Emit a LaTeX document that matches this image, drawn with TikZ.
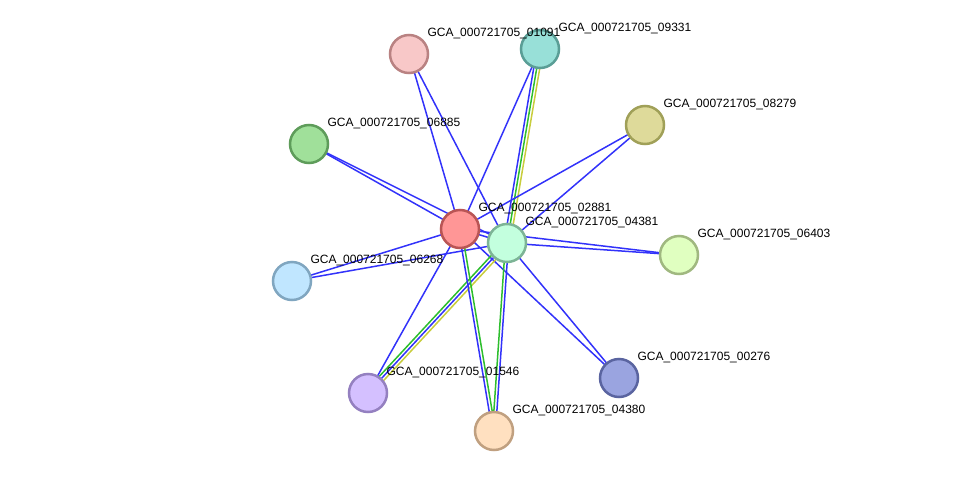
\documentclass[tikz,border=0pt]{standalone}
\usepackage{fontspec}
\setmainfont{Liberation Sans}
\usetikzlibrary{calc, backgrounds}

\definecolor{edgeblue}{RGB}{50,50,250}
\definecolor{edgegreen}{RGB}{45,190,45}
\definecolor{edgeyellow}{RGB}{200,205,60}

\tikzstyle{protein} = [circle, minimum size=38, inner sep=0pt, line width=2.5pt]
\tikzstyle{tag} = [font=\fontsize{12}{14}\selectfont, inner sep=0pt, xshift=4pt, yshift=1pt, text=black]
\tikzstyle{blueline} = [draw=edgeblue, line width=1.5pt]
\tikzstyle{greenline} = [draw=edgegreen, line width=1.5pt]
\tikzstyle{yellowline} = [draw=edgeyellow, line width=1.5pt]

% one strand of an edge, shifted sideways by #4
\newcommand{\strand}[4]{\draw [#3] ($(#1.center)!#4!90:(#2.center)$) -- ($(#2.center)!#4!-90:(#1.center)$);}

\begin{document}
\begin{tikzpicture}[x=1pt, y=-1pt]
    \useasboundingbox (0,0) rectangle (975,477);

    \node (n02881) [protein, draw={rgb,255:red,185;green,85;blue,85}, fill={rgb,255:red,255;green,150;blue,150}, label={[tag]north east:GCA\_000721705\_02881}] at (460,229) {};
    \node (n04381) [protein, draw={rgb,255:red,125;green,180;blue,150}, fill={rgb,255:red,195;green,255;blue,222}, label={[tag]north east:GCA\_000721705\_04381}] at (507,243) {};
    \node (n09331) [protein, draw={rgb,255:red,90;green,158;blue,150}, fill={rgb,255:red,152;green,224;blue,216}, label={[tag]north east:GCA\_000721705\_09331}] at (540,49) {};
    \node (n01091) [protein, draw={rgb,255:red,185;green,130;blue,130}, fill={rgb,255:red,248;green,200;blue,200}, label={[tag]north east:GCA\_000721705\_01091}] at (409,54) {};
    \node (n08279) [protein, draw={rgb,255:red,160;green,160;blue,88}, fill={rgb,255:red,222;green,218;blue,154}, label={[tag]north east:GCA\_000721705\_08279}] at (645,125) {};
    \node (n06885) [protein, draw={rgb,255:red,94;green,156;blue,90}, fill={rgb,255:red,160;green,224;blue,154}, label={[tag]north east:GCA\_000721705\_06885}] at (309,144) {};
    \node (n06403) [protein, draw={rgb,255:red,160;green,184;blue,128}, fill={rgb,255:red,224;green,255;blue,192}, label={[tag]north east:GCA\_000721705\_06403}] at (679,255) {};
    \node (n06268) [protein, draw={rgb,255:red,128;green,166;blue,192}, fill={rgb,255:red,192;green,230;blue,255}, label={[tag]north east:GCA\_000721705\_06268}] at (292,281) {};
    \node (n00276) [protein, draw={rgb,255:red,90;green,100;blue,160}, fill={rgb,255:red,154;green,164;blue,224}, label={[tag]north east:GCA\_000721705\_00276}] at (619,378) {};
    \node (n01546) [protein, draw={rgb,255:red,148;green,128;blue,192}, fill={rgb,255:red,212;green,192;blue,255}, label={[tag]north east:GCA\_000721705\_01546}] at (368,393) {};
    \node (n04380) [protein, draw={rgb,255:red,192;green,160;blue,128}, fill={rgb,255:red,255;green,224;blue,192}, label={[tag]north east:GCA\_000721705\_04380}] at (494,431) {};

    \begin{scope}[on background layer]
    \strand{n02881}{n04381}{blueline}{0pt}
    \strand{n01091}{n02881}{blueline}{0pt}
    \strand{n01091}{n04381}{blueline}{0pt}
    \strand{n09331}{n02881}{blueline}{0pt}
    \strand{n09331}{n04381}{blueline}{-3pt}
    \strand{n09331}{n04381}{greenline}{0pt}
    \strand{n09331}{n04381}{yellowline}{3pt}
    \strand{n08279}{n02881}{blueline}{0pt}
    \strand{n08279}{n04381}{blueline}{0pt}
    \strand{n06885}{n02881}{blueline}{0pt}
    \strand{n06885}{n04381}{blueline}{0pt}
    \strand{n06403}{n02881}{blueline}{0pt}
    \strand{n06403}{n04381}{blueline}{0pt}
    \strand{n06268}{n02881}{blueline}{0pt}
    \strand{n06268}{n04381}{blueline}{0pt}
    \strand{n00276}{n02881}{blueline}{0pt}
    \strand{n00276}{n04381}{blueline}{0pt}
    \strand{n01546}{n02881}{blueline}{0pt}
    \strand{n01546}{n04381}{greenline}{3pt}
    \strand{n01546}{n04381}{blueline}{0pt}
    \strand{n01546}{n04381}{yellowline}{-3pt}
    \strand{n02881}{n04380}{blueline}{-1.5pt}
    \strand{n02881}{n04380}{greenline}{1.5pt}
    \strand{n04381}{n04380}{greenline}{-1.5pt}
    \strand{n04381}{n04380}{blueline}{1.5pt}
    \end{scope}
\end{tikzpicture}
\end{document}
